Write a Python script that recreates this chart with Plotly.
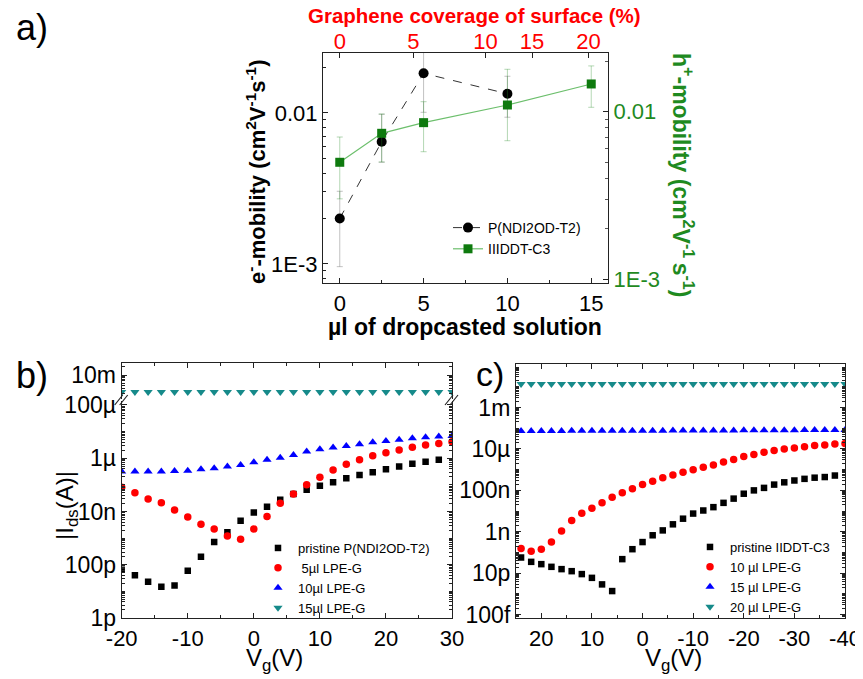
import plotly.graph_objects as go

# The page body has an 8px default margin, so the figure is drawn 8px in from the corner.
OFF = 8
W, H = 863 - OFF, 679 - OFF
def px_x(p): return (p - OFF) / W
def px_y(p): return 1 - (p - OFF) / H

# ---------------- Panel a data ----------------
vol_ul = [0, 2.5, 5, 10, 15]
e_vol = [0, 2.5, 5, 10]
e_mob = [0.0020, 0.00645, 0.0183, 0.0134]
e_up = [0.00303, 0.0098, 0.03, 0.0175]
e_lo = [0.00096, 0.00472, 0.0101, 0.00937]
h_mob = [0.00499, 0.00743, 0.00860, 0.01096, 0.01463]
h_up = [0.00706, 0.00969, 0.01147, 0.0179, 0.01875]
h_lo = [0.00302, 0.00501, 0.00577, 0.00671, 0.01062]
cov_pos = [0, 4.39, 8.69, 11.47, 14.84]
cov_text = ["0", "5", "10", "15", "20"]
a_ytick_vals = [0.001, 0.01]
a_ytick_text = ["1E-3", "0.01"]

# ---------------- Panel b data ----------------
vg_b_black = [-20, -18, -16, -14, -12, -10, -8, -6, -4, -2, 0, 2, 4, 6, 8, 10, 12, 14, 16, 18, 20, 22, 24, 26, 28]
ids_b_black = [6.5e-11, 4.0e-11, 2.3e-11, 1.5e-11, 1.66e-11, 6.0e-11, 2.0e-10, 7.1e-10, 1.66e-9, 4.5e-9,
               9.1e-9, 1.5e-8, 2.75e-8, 4.5e-8, 6.5e-8, 9.3e-8, 1.26e-7, 1.78e-7, 2.34e-7, 2.95e-7,
               3.9e-7, 4.9e-7, 6.2e-7, 7.4e-7, 8.7e-7]
vg_b = [-20, -18, -16, -14, -12, -10, -8, -6, -4, -2, 0, 2, 4, 6, 8, 10, 12, 14, 16, 18, 20, 22, 24, 26, 28, 30]
ids_b_red = [8.1e-8, 5.1e-8, 2.95e-8, 2.14e-8, 1.15e-8, 6.2e-9, 3.3e-9, 2.2e-9, 1.2e-9, 9.1e-10,
             2.2e-9, 6.5e-9, 2.04e-8, 4.5e-8, 1.0e-7, 1.95e-7, 3.6e-7, 5.9e-7, 8.7e-7, 1.23e-6,
             1.62e-6, 2.04e-6, 2.57e-6, 3.16e-6, 3.6e-6, 4.2e-6]
ids_b_blue = [3.16e-7, 3.16e-7, 3.16e-7, 3.16e-7, 3.3e-7, 3.4e-7, 3.9e-7, 4.2e-7, 4.9e-7, 5.6e-7,
              7.1e-7, 8.7e-7, 1.05e-6, 1.32e-6, 1.78e-6, 2.19e-6, 2.51e-6, 2.88e-6, 3.39e-6, 3.98e-6,
              4.47e-6, 4.9e-6, 5.6e-6, 6.2e-6, 6.5e-6, 6.9e-6]
ids_b_teal = [2.3e-3, 2.3e-3, 2.3e-3, 2.3e-3, 2.3e-3, 2.3e-3, 2.3e-3, 2.3e-3, 2.3e-3, 2.3e-3,
              2.3e-3, 2.3e-3, 2.3e-3, 2.3e-3, 2.3e-3, 2.3e-3, 2.3e-3, 2.3e-3, 2.3e-3, 2.3e-3,
              2.3e-3, 2.3e-3, 2.3e-3, 2.3e-3, 2.3e-3, 2.3e-3]
b_xtick_vals = [-20, -10, 0, 10, 20, 30]
b_xtick_text = ["-20", "-10", "0", "10", "20", "30"]
b_low_tick_vals = [1e-12, 1e-10, 1e-8, 1e-6, 1e-4]
b_low_tick_text = ["1p", "100p", "10n", "1µ", "100µ"]
b_low_unlabeled = [1e-11, 1e-9, 1e-7, 1e-5]
b_up_tick_vals = [1e-2]
b_up_tick_text = ["10m"]

# ---------------- Panel c data ----------------
vg_c_black = [24, 22, 20, 18, 16, 14, 12, 10, 8, 6, 4, 2, 0, -2, -4, -6, -8, -10, -12, -14, -16, -18,
              -20, -22, -24, -26, -28, -30, -32, -34, -36, -38]
ids_c_black = [5.75e-11, 3.55e-11, 2.75e-11, 2.04e-11, 1.58e-11, 1.26e-11, 9.1e-12, 6.0e-12, 2.9e-12, 1.38e-12,
               4.8e-11, 1.45e-10, 3.2e-10, 6.8e-10, 1.17e-9, 2.3e-9, 4.3e-9, 7.6e-9, 1.07e-8, 1.55e-8,
               2.5e-8, 4.0e-8, 6.9e-8, 1.0e-7, 1.32e-7, 1.9e-7, 2.45e-7, 3.0e-7, 3.6e-7, 4.1e-7,
               4.4e-7, 5.2e-7]
vg_c = [24, 22, 20, 18, 16, 14, 12, 10, 8, 6, 4, 2, 0, -2, -4, -6, -8, -10, -12, -14, -16, -18,
        -20, -22, -24, -26, -28, -30, -32, -34, -36, -38, -40]
ids_c_red = [1.55e-10, 1.15e-10, 1.45e-10, 3.2e-10, 1.1e-9, 3.55e-9, 7.9e-9, 1.38e-8, 2.5e-8, 4.6e-8,
             7.6e-8, 1.2e-7, 1.9e-7, 2.75e-7, 4.1e-7, 5.6e-7, 7.6e-7, 9.8e-7, 1.32e-6, 1.7e-6,
             2.34e-6, 3.1e-6, 4.3e-6, 5.4e-6, 6.9e-6, 8.3e-6, 1.0e-5, 1.12e-5, 1.29e-5, 1.45e-5,
             1.55e-5, 1.74e-5, 1.82e-5]
ids_c_blue = [7.4e-5, 7.4e-5, 7.4e-5, 7.4e-5, 7.4e-5, 7.5e-5, 7.5e-5, 7.5e-5, 7.5e-5, 7.5e-5,
              7.6e-5, 7.6e-5, 7.6e-5, 7.6e-5, 7.6e-5, 7.7e-5, 7.7e-5, 7.7e-5, 7.7e-5, 7.8e-5,
              7.8e-5, 7.8e-5, 7.9e-5, 7.9e-5, 7.9e-5, 8.0e-5, 8.0e-5, 8.0e-5, 8.1e-5, 8.1e-5,
              8.2e-5, 8.2e-5, 8.3e-5]
ids_c_teal = [1.38e-2, 1.38e-2, 1.38e-2, 1.38e-2, 1.38e-2, 1.38e-2, 1.38e-2, 1.38e-2, 1.38e-2, 1.38e-2,
              1.38e-2, 1.38e-2, 1.38e-2, 1.38e-2, 1.38e-2, 1.38e-2, 1.38e-2, 1.38e-2, 1.38e-2, 1.38e-2,
              1.38e-2, 1.38e-2, 1.38e-2, 1.38e-2, 1.38e-2, 1.38e-2, 1.38e-2, 1.38e-2, 1.38e-2, 1.38e-2,
              1.38e-2, 1.38e-2, 1.38e-2]
c_xtick_vals = [20, 10, 0, -10, -20, -30, -40]
c_xtick_text = ["20", "10", "0", "-10", "-20", "-30", "-40"]
c_tick_vals = [1e-13, 1e-11, 1e-9, 1e-7, 1e-5, 1e-3]
c_tick_text = ["100f", "10p", "1n", "100n", "10µ", "1m"]
c_unlabeled = [1e-12, 1e-10, 1e-8, 1e-6, 1e-4, 1e-2]


def log_minor(lo_exp, hi_exp, extra=()):
    return [m * 10.0 ** k for k in range(lo_exp, hi_exp) for m in range(2, 10)] + list(extra)


FONT = "Arial, Liberation Sans, sans-serif"
GREEN = "#1f8a1f"
GREEN_MK = "#0e7a0e"
RED = "#ff0000"
BLUE = "#0000ff"
TEAL = "#168a8a"

fig = go.Figure()

# ---- Panel a traces ----
fig.add_trace(go.Scatter(
    x=e_vol, y=e_mob, xaxis="x", yaxis="y", mode="lines+markers", name="P(NDI2OD-T2)",
    line=dict(color="#333333", width=1, dash="dash"),
    marker=dict(symbol="circle", size=10, color="black"),
    error_y=dict(type="data", symmetric=False,
                 array=[u - v for u, v in zip(e_up, e_mob)],
                 arrayminus=[v - l for v, l in zip(e_mob, e_lo)],
                 color="rgba(120,120,120,0.45)", thickness=1, width=3),
    legend="legend"))
fig.add_trace(go.Scatter(
    x=vol_ul, y=h_mob, xaxis="x", yaxis="y2", mode="lines+markers", name="IIIDDT-C3",
    line=dict(color="#6cbf6c", width=1.2),
    marker=dict(symbol="square", size=9, color=GREEN_MK),
    error_y=dict(type="data", symmetric=False,
                 array=[u - v for u, v in zip(h_up, h_mob)],
                 arrayminus=[v - l for v, l in zip(h_mob, h_lo)],
                 color="rgba(40,140,40,0.35)", thickness=1, width=3),
    legend="legend"))
fig.add_trace(go.Scatter(x=[None], y=[None], xaxis="x2", yaxis="y", showlegend=False,
                         hoverinfo="skip"))

# ---- Panel b traces ----
fig.add_trace(go.Scatter(x=vg_b_black, y=ids_b_black, xaxis="x3", yaxis="y3", mode="markers",
                         name="pristine P(NDI2OD-T2)",
                         marker=dict(symbol="square", size=6.5, color="black"), legend="legend2"))
fig.add_trace(go.Scatter(x=vg_b, y=ids_b_red, xaxis="x3", yaxis="y3", mode="markers",
                         name=" 5µl LPE-G",
                         marker=dict(symbol="circle", size=7.5, color=RED), legend="legend2"))
fig.add_trace(go.Scatter(x=vg_b, y=ids_b_blue, xaxis="x3", yaxis="y3", mode="markers",
                         name="10µl LPE-G",
                         marker=dict(symbol="triangle-up", size=8, color=BLUE), legend="legend2"))
fig.add_trace(go.Scatter(x=vg_b, y=ids_b_teal, xaxis="x4", yaxis="y4", mode="markers",
                         name="15µl LPE-G",
                         marker=dict(symbol="triangle-down", size=8, color=TEAL), legend="legend2"))

# ---- Panel c traces ----
fig.add_trace(go.Scatter(x=vg_c_black, y=ids_c_black, xaxis="x5", yaxis="y5", mode="markers",
                         name="pristine IIDDT-C3",
                         marker=dict(symbol="square", size=6.5, color="black"), legend="legend3"))
fig.add_trace(go.Scatter(x=vg_c, y=ids_c_red, xaxis="x5", yaxis="y5", mode="markers",
                         name="10 µl LPE-G",
                         marker=dict(symbol="circle", size=7.5, color=RED), legend="legend3"))
fig.add_trace(go.Scatter(x=vg_c, y=ids_c_blue, xaxis="x5", yaxis="y5", mode="markers",
                         name="15 µl LPE-G",
                         marker=dict(symbol="triangle-up", size=8, color=BLUE), legend="legend3"))
fig.add_trace(go.Scatter(x=vg_c, y=ids_c_teal, xaxis="x5", yaxis="y5", mode="markers",
                         name="20 µl LPE-G",
                         marker=dict(symbol="triangle-down", size=8, color=TEAL), legend="legend3"))

axis_common = dict(showline=True, linecolor="#222", linewidth=1.2, ticks="inside",
                   ticklen=5, tickcolor="#222", showgrid=False, zeroline=False,
                   automargin=False, ticklabeloverflow="allow")

tickfont_a = dict(family=FONT, size=22, color="black")
xtickfont_bc = dict(family=FONT, size=22, color="black")
ytickfont_bc = dict(family=FONT, size=23, color="black")

fig.update_layout(
    width=W, height=H, margin=dict(l=0, r=0, t=0, b=0, autoexpand=False),
    paper_bgcolor="white", plot_bgcolor="rgba(0,0,0,0)",
    font=dict(family=FONT, color="black"),
    # panel a
    xaxis=dict(domain=[px_x(323), px_x(608)], anchor="y", range=[-1, 16],
               tickvals=[0, 5, 10, 15], tickfont=tickfont_a,
               minor=dict(tickvals=[2.5, 7.5, 12.5], ticks="inside", ticklen=3, tickcolor="#222"),
               **axis_common),
    xaxis2=dict(overlaying="x", anchor="y", side="top", range=[-1, 16],
                tickvals=cov_pos, ticktext=cov_text, ticklabelstandoff=-6,
                tickfont=dict(family=FONT, size=22, color=RED), **axis_common),
    yaxis=dict(domain=[px_y(283), px_y(53)], anchor="x", type="log", range=[-3.126, -1.603],
               tickvals=a_ytick_vals, ticktext=a_ytick_text, tickfont=tickfont_a,
               minor=dict(tickvals=log_minor(-4, -1), ticks="inside", ticklen=3, tickcolor="#222"),
               **axis_common),
    yaxis2=dict(overlaying="y", anchor="x", side="right", type="log", range=[-3.022, -1.65],
                tickvals=a_ytick_vals, ticktext=a_ytick_text,
                tickfont=dict(family=FONT, size=22, color=GREEN),
                minor=dict(tickvals=log_minor(-4, -1), ticks="inside", ticklen=3, tickcolor="#555"),
                **axis_common),
    # panel b
    xaxis3=dict(domain=[px_x(121.7), px_x(452)], anchor="y3", range=[-20, 30],
                tickvals=b_xtick_vals, ticktext=b_xtick_text, tickfont=xtickfont_bc,
                minor=dict(tickvals=[-15, -5, 5, 15, 25], ticks="inside", ticklen=3, tickcolor="#222"),
                **axis_common),
    xaxis4=dict(domain=[px_x(121.7), px_x(452)], anchor="y4", side="top", range=[-20, 30],
                tickvals=b_xtick_vals, showticklabels=False,
                minor=dict(tickvals=[-15, -5, 5, 15, 25], ticks="inside", ticklen=3, tickcolor="#222"),
                **axis_common),
    yaxis3=dict(domain=[px_y(618), px_y(401)], anchor="x3", type="log", range=[-12, -3.85],
                tickvals=b_low_tick_vals, ticktext=b_low_tick_text, tickfont=ytickfont_bc,
                mirror="allticks",
                minor=dict(tickvals=log_minor(-12, -3, b_low_unlabeled), ticks="inside",
                           ticklen=3, tickcolor="#222"),
                **axis_common),
    yaxis4=dict(domain=[px_y(399), px_y(363)], anchor="x4", type="log", range=[-2.90, -1.55],
                tickvals=b_up_tick_vals, ticktext=b_up_tick_text, tickfont=ytickfont_bc,
                mirror="allticks",
                minor=dict(tickvals=log_minor(-3, -1), ticks="inside", ticklen=3, tickcolor="#222"),
                **axis_common),
    # panel c
    xaxis5=dict(domain=[px_x(516), px_x(845)], anchor="y5", range=[25, -40],
                tickvals=c_xtick_vals, ticktext=c_xtick_text, tickfont=xtickfont_bc, mirror="allticks",
                minor=dict(tickvals=[15, 5, -5, -15, -25, -35], ticks="inside", ticklen=3, tickcolor="#222"),
                **axis_common),
    yaxis5=dict(domain=[px_y(618), px_y(364)], anchor="x5", type="log", range=[-13.16, -0.9],
                tickvals=c_tick_vals, ticktext=c_tick_text, tickfont=ytickfont_bc, mirror="allticks",
                minor=dict(tickvals=log_minor(-14, 0, c_unlabeled), ticks="inside", ticklen=3,
                           tickcolor="#222"),
                **axis_common),
    legend=dict(x=px_x(448), y=px_y(212), xanchor="left", yanchor="top",
                bgcolor="rgba(0,0,0,0)", font=dict(family=FONT, size=14), tracegroupgap=0),
    legend2=dict(x=px_x(258), y=px_y(533), xanchor="left", yanchor="top",
                 bgcolor="rgba(0,0,0,0)", font=dict(family=FONT, size=13), tracegroupgap=0),
    legend3=dict(x=px_x(690), y=px_y(532), xanchor="left", yanchor="top",
                 bgcolor="rgba(0,0,0,0)", font=dict(family=FONT, size=13), tracegroupgap=0),
)

annotations = [
    dict(text="a)", x=px_x(32), y=px_y(27), font=dict(size=36)),
    dict(text="b)", x=px_x(32), y=px_y(375), font=dict(size=36)),
    dict(text="c)", x=px_x(490), y=px_y(374), font=dict(size=34)),
    dict(text="<b>Graphene coverage of surface (%)</b>", x=px_x(475), y=px_y(15),
         font=dict(size=20.5, color=RED)),
    dict(text="<b>µl of dropcasted solution</b>", x=px_x(465), y=px_y(327), font=dict(size=23)),
    dict(text="<b>e<sup>-</sup>-mobility (cm<sup>2</sup>V<sup>-1</sup>s<sup>-1</sup>)</b>",
         x=px_x(256), y=px_y(172), textangle=-90, font=dict(size=22)),
    dict(text="<b>h<sup>+</sup>-mobility (cm<sup>2</sup>V<sup>-1 </sup>s<sup>-1</sup>)</b>",
         x=px_x(683), y=px_y(175), textangle=90, font=dict(size=23, color=GREEN)),
    dict(text="|I<sub>ds</sub>(A)|", x=px_x(66), y=px_y(505), textangle=-90, font=dict(size=24)),
    dict(text="V<sub>g</sub>(V)", x=px_x(274), y=px_y(659), font=dict(size=24)),
    dict(text="V<sub>g</sub>(V)", x=px_x(673), y=px_y(659), font=dict(size=24)),
]
for a in annotations:
    a.update(xref="paper", yref="paper", showarrow=False, xanchor="center", yanchor="middle")
    a["font"] = dict(family=FONT, color=a["font"].get("color", "black"), size=a["font"]["size"])
fig.update_layout(annotations=annotations)

# axis break marks on panel b
shapes = []
for xc in (121.7, 452):
    for dx in (-3, 2):
        shapes.append(dict(type="line", xref="paper", yref="paper",
                           x0=px_x(xc + dx - 4), y0=px_y(405), x1=px_x(xc + dx + 4), y1=px_y(395),
                           line=dict(color="#222", width=1.2)))
fig.update_layout(shapes=shapes)

fig.write_html("out.html")
